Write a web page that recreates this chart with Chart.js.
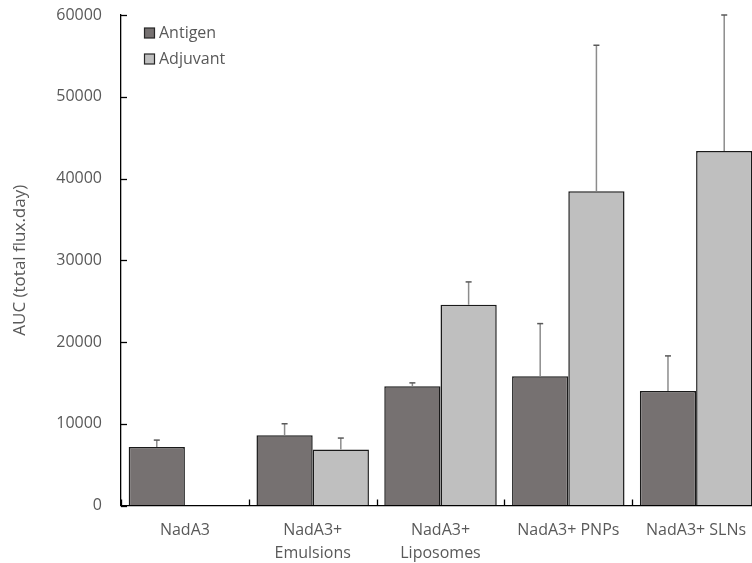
<!DOCTYPE html>
<html>
<head>
<meta charset="utf-8">
<script src="https://cdn.jsdelivr.net/npm/chart.js@4/dist/chart.umd.min.js"></script>
<style>
  html, body { margin: 0; padding: 0; background: #fff; overflow: hidden; }
  #wrap { width: 760px; height: 563px; }
</style>
</head>
<body>
<div id="wrap"><canvas id="chartContainer" width="760" height="563"></canvas></div>
<script>
"use strict";

// 1: data
let groups = ['NadA3', ['NadA3+', 'Emulsions'], ['NadA3+', 'Liposomes'], 'NadA3+ PNPs', 'NadA3+ SLNs'];
let antigen = [7150, 8600, 14600, 15800, 14000];
let antigenErr = [850, 1400, 400, 6450, 4300];
let adjuvant = [null, 6850, 24550, 38450, 43350];
let adjuvantErr = [null, 1400, 2800, 17850, 16650];
let yTicks = [0, 10000, 20000, 30000, 40000, 50000, 60000];

const textGrey = '#595959';
const fontName = "'Open Sans', 'Noto Sans', sans-serif";

// 2: error bars, legend and inner tick marks
const extras = {
  id: 'extras',
  afterDatasetsDraw(chart) {
    const ctx = chart.ctx;
    const y = chart.scales.y;
    const x = chart.scales.x;
    const errs = [antigenErr, adjuvantErr];
    ctx.save();
    chart.data.datasets.forEach((ds, d) => {
      const meta = chart.getDatasetMeta(d);
      meta.data.forEach((bar, i) => {
        if (ds.data[i] == null || errs[d][i] == null) return;
        const top = y.getPixelForValue(ds.data[i] + errs[d][i]);
        const base = y.getPixelForValue(ds.data[i]);
        ctx.strokeStyle = '#8c8c8c';
        ctx.lineWidth = 1.5;
        ctx.beginPath();
        ctx.moveTo(bar.x, base);
        ctx.lineTo(bar.x, top);
        ctx.stroke();
        ctx.strokeStyle = '#595959';
        ctx.beginPath();
        ctx.moveTo(bar.x - 3, top);
        ctx.lineTo(bar.x + 3, top);
        ctx.stroke();
      });
    });

    // inner ticks
    ctx.strokeStyle = '#000';
    ctx.lineWidth = 1.3;
    for (const v of yTicks) {
      const py = Math.round(y.getPixelForValue(v)) + 0.5;
      ctx.beginPath();
      ctx.moveTo(x.left, py);
      ctx.lineTo(x.left + 6, py);
      ctx.stroke();
    }
    const half = (x.getPixelForTick(1) - x.getPixelForTick(0)) / 2;
    for (let i = 0; i <= groups.length; i++) {
      const px = Math.round(x.getPixelForTick(0) - half + i * half * 2) + 0.5;
      ctx.beginPath();
      ctx.moveTo(px, y.bottom);
      ctx.lineTo(px, y.bottom - 6);
      ctx.stroke();
    }

    // legend
    const items = [['Antigen', '#767171'], ['Adjuvant', '#BFBFBF']];
    ctx.font = '16px ' + fontName;
    ctx.textBaseline = 'middle';
    items.forEach((it, k) => {
      const cy = 33 + k * 26;
      ctx.fillStyle = it[1];
      ctx.fillRect(144.5, cy - 5, 10, 10);
      ctx.strokeStyle = '#262626';
      ctx.lineWidth = 1.2;
      ctx.strokeRect(144.5, cy - 5, 10, 10);
      ctx.fillStyle = textGrey;
      ctx.fillText(it[0], 159, cy);
    });
    ctx.restore();
  }
};

// 3: chart
let chart = new Chart(document.getElementById('chartContainer'), {
  type: 'bar',
  data: {
    labels: groups,
    datasets: [{
      label: 'Antigen',
      data: antigen,
      backgroundColor: '#767171',
      borderColor: '#1a1a1a',
      borderWidth: 1.5
    }, {
      label: 'Adjuvant',
      data: adjuvant,
      backgroundColor: '#BFBFBF',
      borderColor: '#1a1a1a',
      borderWidth: 1.5
    }]
  },
  options: {
    responsive: false,
    animation: false,
    devicePixelRatio: 1,
    layout: { padding: { top: 15, left: 0, right: 0, bottom: 0 } },
    plugins: { legend: { display: false }, tooltip: { enabled: false } },
    datasets: { bar: { categoryPercentage: 0.88, barPercentage: 1.0 } },
    scales: {
      x: {
        grid: { drawOnChartArea: false, drawTicks: false },
        border: { color: '#000', width: 1.3 },
        ticks: { color: textGrey, font: { family: fontName, size: 16, lineHeight: 1.45 }, padding: 13, maxRotation: 0 },
        afterFit(scale) { scale.height = 57.5; scale.paddingLeft = 0; scale.paddingRight = 0; }
      },
      y: {
        min: 0,
        max: 60000,
        grid: { drawOnChartArea: false, drawTicks: false },
        border: { color: '#000', width: 1.3 },
        afterBuildTicks(scale) { scale.ticks = yTicks.map(v => ({ value: v })); },
        ticks: { color: textGrey, font: { family: fontName, size: 16 }, padding: 19, callback: v => v },
        title: { display: true, text: 'AUC (total flux.day)', color: textGrey, font: { family: fontName, size: 17 }, padding: 10 },
        afterFit(scale) { scale.width = 121; scale.paddingTop = 0; scale.paddingBottom = 0; }
      }
    }
  },
  plugins: [extras]
});
</script>
</body>
</html>
